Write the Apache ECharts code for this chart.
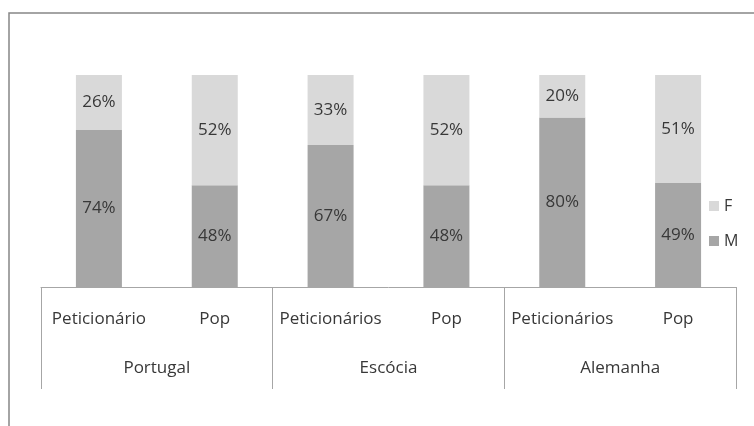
<!DOCTYPE html>
<html>
<head>
<meta charset="utf-8">
<script src="https://cdn.jsdelivr.net/npm/echarts@6/dist/echarts.min.js"></script>
<style>html,body{margin:0;padding:0;background:#fff}#c{width:754px;height:426px}</style>
</head>
<body>
<div id="c"></div>
<script>
var categories = ['Peticionário', 'Pop', 'Peticionários', 'Pop', 'Peticionários', 'Pop'];
var groups = ['Portugal', 'Escócia', 'Alemanha'];
var valuesM = [74, 48, 67, 48, 80, 49];
var valuesF = [26, 52, 33, 52, 20, 51];
var seriesNames = ['M', 'F'];

var txt = '#383838';
var font = 'Open Sans';
var chart = echarts.init(document.getElementById('c'), null, {renderer: 'canvas'});
chart.setOption({
  animation: false,
  grid: {left: 41, right: 18, top: 75, bottom: 139, containLabel: false},
  legend: {
    orient: 'vertical', left: 704, top: 193,
    data: ['F', 'M'], itemWidth: 10, itemHeight: 10, itemGap: 19,
    icon: 'rect',
    textStyle: {color: txt, fontFamily: font, fontSize: 16}
  },
  graphic: [{
    type: 'rect', shape: {x: 9, y: 13, width: 800, height: 500},
    style: {fill: 'none', stroke: '#868686', lineWidth: 1.5}, silent: true, z: -1
  }],
  xAxis: [{
    type: 'category', data: categories, position: 'bottom',
    axisLine: {show: true, lineStyle: {color: '#a6a6a6', width: 1}},
    axisTick: {show: false},
    axisLabel: {margin: 24, color: txt, fontFamily: font, fontSize: 17, interval: 0}
  }, {
    type: 'category', data: groups, position: 'bottom', offset: 0,
    axisLine: {show: false},
    axisTick: {show: true, length: 102, lineStyle: {color: '#a6a6a6'}},
    axisLabel: {margin: 73, color: txt, fontFamily: font, fontSize: 17, interval: 0}
  }],
  yAxis: {type: 'value', min: 0, max: 100, show: false},
  series: [{
    name: seriesNames[0], type: 'bar', stack: 's', barWidth: 46, data: valuesM,
    itemStyle: {color: '#a6a6a6'},
    label: {show: true, position: 'inside', formatter: '{c}%', color: txt, fontFamily: font, fontSize: 17}
  }, {
    name: seriesNames[1], type: 'bar', stack: 's', barWidth: 46, data: valuesF,
    itemStyle: {color: '#d9d9d9'},
    label: {show: true, position: 'inside', formatter: '{c}%', color: txt, fontFamily: font, fontSize: 17}
  }]
});
</script>
</body>
</html>
